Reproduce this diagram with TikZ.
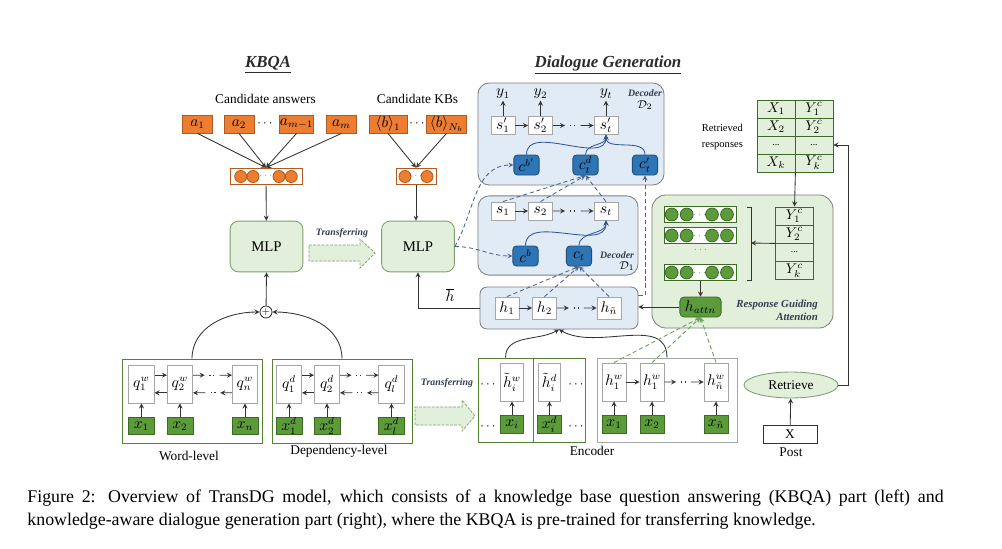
\documentclass[tikz,border=0pt]{standalone}
\usepackage{fontspec}
\setmainfont{Liberation Serif}
\usepackage[dvipsnames]{xcolor}
\usetikzlibrary{shapes.geometric,calc}

\definecolor{kbOrange}{HTML}{ED7D31}
\definecolor{kbOrangeDark}{HTML}{B35A1F}
\definecolor{kbGreen}{HTML}{5B9B3A}
\definecolor{kbGreenDark}{HTML}{3D6B27}
\definecolor{panelGreen}{HTML}{548235}
\definecolor{lightGreen}{HTML}{E2EFDA}
\definecolor{mlpEdge}{HTML}{7F9F70}
\definecolor{lightBlue}{HTML}{E1EBF6}
\definecolor{panelEdge}{HTML}{7F7F7F}
\definecolor{kbBlue}{HTML}{2E75B6}
\definecolor{kbBlueDark}{HTML}{1F4E79}
\definecolor{curveBlue}{HTML}{2F5597}
\definecolor{dashBlue}{HTML}{4A6488}
\definecolor{dashGreen}{HTML}{6C9A5E}
\definecolor{boxGray}{HTML}{A6A6A6}
\definecolor{lineDark}{HTML}{333333}
\definecolor{titleInk}{HTML}{2B2B2B}
\definecolor{tagInk}{HTML}{333F50}

% arrow, dots, arrow
\newcommand{\dotlink}[2]{%
  \draw[conn] (#1) -- ($(#1)!0.3!(#2)$);
  \draw[draw=lineDark,line width=0.8pt,dotted] ($(#1)!0.42!(#2)$) -- ($(#1)!0.6!(#2)$);
  \draw[conn] ($(#1)!0.68!(#2)$) -- (#2);}

\begin{document}
\begin{tikzpicture}[x=0.025cm,y=-0.025cm,>=stealth,line width=0.6pt,
  font=\fontsize{9.5}{11}\selectfont,
  box font/.style={font=\fontsize{10.5}{12}\selectfont},
  cand node/.style={box font,draw=kbOrangeDark,fill=kbOrange,inner sep=0pt,minimum height=0.45cm},
  vec node/.style={draw=kbOrangeDark,fill=white,inner sep=0pt,minimum height=0.42cm},
  gvec node/.style={draw=kbGreenDark,fill=white,inner sep=0pt,minimum width=1.78cm,minimum height=0.38cm},
  mlp node/.style={draw=mlpEdge,fill=lightGreen,rounded corners=6pt,minimum width=1.82cm,minimum height=1.27cm,font=\fontsize{10.5}{12}\selectfont},
  cell node/.style={box font,draw=boxGray,fill=white,inner sep=0pt},
  in node/.style={box font,draw=kbGreenDark,fill=kbGreen,inner sep=0pt,minimum height=0.44cm},
  ctx node/.style={box font,draw=kbBlueDark,fill=kbBlue,rounded corners=2.5pt,inner sep=0pt,minimum width=0.63cm,minimum height=0.5cm},
  tab node/.style={font=\fontsize{10}{11}\selectfont,draw=kbGreenDark,fill=lightGreen,inner sep=0pt,minimum width=0.95cm,minimum height=0.45cm},
  blue panel/.style={draw=panelEdge,fill=lightBlue,rounded corners=8pt},
  conn/.style={->,draw=lineDark},
  dec dash/.style={->,draw=dashBlue,dash pattern=on 3pt off 2pt},
  att dash/.style={->,draw=dashGreen,dash pattern=on 3pt off 2pt},
  dec curve/.style={->,draw=curveBlue},
  transfer/.style={draw=mlpEdge,fill=lightGreen,dash pattern=on 2pt off 1pt,line width=0.5pt},
  small tag/.style={font=\bfseries\itshape\fontsize{7}{8}\selectfont,text=tagInk},
  title text/.style={font=\bfseries\itshape\fontsize{12}{14}\selectfont,text=titleInk}]

\fill[white] (0,0) rectangle (1002,548);
\useasboundingbox (0,0) rectangle (1002,548);

% ---------------- KBQA
\node[title text] (kbqaT) at (268,65) {\underline{KBQA}};
\node[title text] (dgT) at (608,65) {\underline{Dialogue Generation}};
\node (candA) at (265.5,99) {Candidate answers};
\node (candB) at (417.5,99) {Candidate KBs};

\node[cand node,minimum width=0.73cm] (a1) at (197.5,124) {$a_1$};
\node[cand node,minimum width=0.75cm] (a2) at (239,124) {$a_2$};
\node (adots) at (265,124) {$\cdots$};
\node[cand node,minimum width=0.83cm] (am1) at (296.5,124) {$a_{m-1}$};
\node[cand node,minimum width=0.73cm] (am) at (341.5,124) {$a_m$};
\node[cand node,minimum width=0.95cm] (b1) at (388,124) {$\langle b\rangle_1$};
\node (bdots) at (417,124) {$\cdots$};
\node[cand node,minimum width=0.98cm] (bN) at (446.5,124) {$\langle b\rangle_{N_b}$};

\node[vec node,minimum width=1.8cm] (va) at (266,176.5) {};
\node[vec node,minimum width=1cm] (vb) at (416,176.5) {};
\foreach \cx in {240.7,253,279,291.3}
  \fill[draw=kbOrangeDark,fill=kbOrange] (\cx,176.5) circle[radius=0.15cm];
\foreach \cx in {405,427}
  \fill[draw=kbOrangeDark,fill=kbOrange] (\cx,176.5) circle[radius=0.15cm];
\node[font=\tiny] (vadots) at (266,176) {$\cdots$};
\node[font=\tiny] (vbdots) at (416,176) {$\cdots$};

\foreach \n in {a1,a2,am1,am} \draw[conn] (\n.south) -- (va.north);
\foreach \n in {b1,bN} \draw[conn] (\n.south) -- (vb.north);

\node[mlp node] (mlpA) at (266.5,246.5) {MLP};
\node[mlp node] (mlpB) at (418,246.5) {MLP};
\draw[conn] (va) -- (mlpA);
\draw[conn] (vb.south) -- (vb.south |- mlpB.north);

\node[small tag] (trA) at (342,233) {Transferring};
\draw[transfer] (309,245) -- (360,245) -- (360,239) -- (375,253) -- (360,268) -- (360,261) -- (309,261) -- cycle;

\node[circle,draw=lineDark,fill=white,inner sep=0pt,minimum size=0.3cm,font=\scriptsize] (plus) at (266,312) {$+$};
\draw[conn] (plus) -- (mlpA.south);

% ---------------- question encoders
\node[draw=panelGreen,minimum width=3.5cm,minimum height=2.12cm] (wordP) at (192,401.5) {};
\node[draw=panelGreen,minimum width=3.5cm,minimum height=2.12cm] (depP) at (342,401.5) {};
\node (wordL) at (189,456) {Word-level};
\node (depL) at (339,451) {Dependency-level};

\foreach \i/\px in {1/141.5, 2/180, n/245} {
  \node[cell node,minimum width=0.63cm,minimum height=0.95cm] (qw\i) at (\px,384) {$q_{\i}^w$};
  \node[in node,minimum width=0.65cm] (xw\i) at (\px,426) {$x_{\i}$};
  \draw[conn] (xw\i) -- (qw\i);
}
\foreach \i/\px in {1/289, 2/327, l/391.5} {
  \node[cell node,minimum width=0.63cm,minimum height=0.95cm] (qd\i) at (\px,384) {$q_{\i}^d$};
  \node[in node,minimum width=0.65cm] (xd\i) at (\px,426) {$x_{\i}^d$};
  \draw[conn] (xd\i) -- (qd\i);
}
\draw[conn] ([yshift=0.22cm]qw1.east) -- ([yshift=0.22cm]qw2.west);
\draw[conn] ([yshift=-0.22cm]qw2.west) -- ([yshift=-0.22cm]qw1.east);
\dotlink{[yshift=0.22cm]qw2.east}{[yshift=0.22cm]qwn.west}
\dotlink{[yshift=-0.22cm]qwn.west}{[yshift=-0.22cm]qw2.east}
\draw[conn] ([yshift=0.22cm]qd1.east) -- ([yshift=0.22cm]qd2.west);
\draw[conn] ([yshift=-0.22cm]qd2.west) -- ([yshift=-0.22cm]qd1.east);
\dotlink{[yshift=0.22cm]qd2.east}{[yshift=0.22cm]qdl.west}
\dotlink{[yshift=-0.22cm]qdl.west}{[yshift=-0.22cm]qd2.east}

\draw[conn] (wordP.north) to[out=90,in=180] (plus.west);
\draw[conn] (depP.north) to[out=90,in=0] (plus.east);

\node[small tag] (trB) at (447,383) {Transferring};
\draw[transfer] (415,407) -- (462,407) -- (462,400) -- (475,416) -- (462,431) -- (462,425) -- (415,425) -- cycle;

% ---------------- encoder
\node[draw=panelGreen,minimum width=1.375cm,minimum height=2.12cm] (encA) at (505.5,400.5) {};
\node[draw=panelGreen,minimum width=1.3cm,minimum height=2.12cm] (encB) at (559,400.5) {};
\node[draw=boxGray,minimum width=3.5cm,minimum height=2.12cm] (encC) at (667,400.5) {};
\node (encL) at (592,451) {Encoder};

\node[cell node,minimum width=0.57cm,minimum height=0.95cm] (hti) at (512,382) {$\tilde{h}_i^w$};
\node[cell node,minimum width=0.57cm,minimum height=0.95cm] (htd) at (549.5,382) {$\tilde{h}_i^d$};
\node[in node,minimum width=0.58cm,minimum height=0.43cm] (xti) at (512,424.5) {$x_i$};
\node[in node,minimum width=0.58cm,minimum height=0.43cm] (xtd) at (549.5,424.5) {$x_i^d$};
\draw[conn] (xti) -- (hti);
\draw[conn] (xtd) -- (htd);
\node[inner sep=0pt] (edotA) at (488,385) {$\cdots$};
\node[inner sep=0pt] (edotB) at (576,385) {$\cdots$};
\node[inner sep=0pt] (edotC) at (488,427) {$\cdots$};
\node[inner sep=0pt] (edotD) at (576,427) {$\cdots$};

\foreach \i/\px/\hl/\xl in {1/614/1/1, 2/652/1/2, n/716/{\tilde{n}}/{\tilde{n}}} {
  \node[cell node,minimum width=0.6cm,minimum height=0.95cm] (hw\i) at (\px,382) {$h_{\hl}^w$};
  \node[in node,minimum width=0.6cm,minimum height=0.43cm] (xe\i) at (\px,424.5) {$x_{\xl}$};
  \draw[conn] (xe\i) -- (hw\i);
}
\draw[conn] (hw1) -- (hw2);
\dotlink{hw2.east}{hwn.west}

% ---------------- decoders
\node[blue panel,minimum width=4.65cm,minimum height=2.55cm] (decB) at (571,134) {};
\node[blue panel,minimum width=4cm,minimum height=1.98cm] (decA) at (558,235.5) {};
\node[blue panel,rounded corners=5pt,minimum width=3.95cm,minimum height=1.05cm] (hP) at (559,308) {};

\foreach \i/\px in {1/503, 2/540.5, t/606} {
  \node[cell node,minimum width=0.6cm,minimum height=0.43cm] (sp\i) at (\px,125.5) {$s'_{\i}$};
  \node[box font,inner sep=1pt] (y\i) at (\px,94) {$y_{\i}$};
  \draw[conn] (sp\i) -- (y\i);
  \node[cell node,minimum width=0.6cm,minimum height=0.45cm] (s\i) at (\px,211) {$s_{\i}$};
}
\draw[conn] (sp1) -- (sp2);
\dotlink{sp2.east}{spt.west}
\draw[conn] (s1) -- (s2);
\dotlink{s2.east}{st.west}

\node[ctx node] (cbp) at (526.5,165) {$c^{b'}$};
\node[ctx node] (ctd) at (585.5,165) {$c_t^d$};
\node[ctx node] (ctp) at (645,165) {$c'_t$};
\node[ctx node] (cb) at (525.5,256) {$c^b$};
\node[ctx node] (ct) at (579,256) {$c_t$};

\node[small tag] (d2L) at (645,93) {Decoder};
\node[font=\fontsize{8}{9}\selectfont] (d2M) at (645,105) {$\mathcal{D}_2$};
\node[small tag] (d1L) at (617,255) {Decoder};
\node[font=\fontsize{8}{9}\selectfont] (d1M) at (627,266) {$\mathcal{D}_1$};

\foreach \n in {cbp,ctd,ctp} \draw[dec curve] (\n.north) to[out=90,in=-90] (spt.south);
\foreach \n in {cb,ct} \draw[dec curve] (\n.north) to[out=90,in=-90] (st.south);

\foreach \i/\px/\hl in {1/507/1, 2/544.5/2, n/609/{\tilde{n}}}
  \node[cell node,minimum width=0.6cm,minimum height=0.55cm] (h\i) at (\px,308) {$h_{\hl}$};
\draw[conn] (h1) -- (h2);
\dotlink{h2.east}{hn.west}

\foreach \n in {h1,h2,hn} \draw[dec dash] (\n.north) -- (ct.south);
\foreach \n in {s1,s2,st} \draw[dec dash] (\n.north) -- (ctd.south);
\draw[dec dash] (mlpB.east) to[out=60,in=180] (cbp.west);
\draw[dec dash] (mlpB.east) to[out=0,in=180] (cb.west);
\draw[dec dash] ([yshift=0.32cm]hP.east) -| (ctp.south);

\draw[conn] (hP.west) -| (mlpB.south);
\node[box font] (hbar) at (450,295) {$\overline{h}$};

\draw[conn] (encA.north) to[out=90,in=-150] (hP.south);
\draw[conn] (encC.north) to[out=90,in=-30] (hP.south);

% ---------------- response guiding attention
\node[draw=panelEdge,fill=lightGreen,rounded corners=10pt,minimum width=4.525cm,minimum height=3.325cm] (rgaP) at (742.5,261.5) {};
\foreach \v/\yy in {1/214.5, 2/235.5, 3/272.5} {
  \node[gvec node] (gv\v) at (700.5,\yy) {};
  \foreach \cx in {671.7,686.7,712,727}
    \fill[draw=kbGreenDark,fill=kbGreen] (\cx,\yy) circle[radius=0.16cm];
  \node[font=\tiny] (gd\v) at (699.5,\yy) {$\cdots$};
}
\node[font=\tiny] (gvdots) at (700.5,250) {$\cdots$};
\draw[draw=lineDark] (747,207) -- (751,207) -- (751,280) -- (747,280);
\coordinate (brk) at (751,243);

\foreach \r/\yy/\lab in {1/216/{$Y_1^c$}, 2/234/{$Y_2^c$}, 3/252.5/{\scriptsize...}, 4/270.5/{$Y_k^c$}}
  \node[tab node,minimum width=0.93cm] (yc\r) at (794.5,\yy) {\lab};
\draw[conn] (yc2.south west) -- (brk);

\node[in node,rounded corners=3pt,minimum width=1.03cm,minimum height=0.5cm] (hatt) at (700.5,307) {$h_{attn}$};
\draw[conn] (gv3.south) -- (hatt.north);
\draw[conn] (hatt.west) -- (hatt.west -| hP.east);
\node[small tag,font=\bfseries\itshape\fontsize{7.7}{9.5}\selectfont,align=right,anchor=east] (rgaL) at (823,310) {Response Guiding\\Attention};

\foreach \n in {hw1,hw2,hwn} \draw[att dash] (\n.north) -- (hatt.south);

% ---------------- retrieved responses
\foreach \r/\yy/\xl/\yl in {1/109/{$X_1$}/{$Y_1^c$}, 2/127/{$X_2$}/{$Y_2^c$}, 3/145/{\scriptsize...}/{\scriptsize...}, 4/163/{$X_k$}/{$Y_k^c$}} {
  \node[tab node] (tx\r) at (776,\yy) {\xl};
  \node[tab node] (ty\r) at (814,\yy) {\yl};
}
\node[font=\fontsize{7.5}{11}\selectfont,align=right,anchor=east] (retL) at (748,137) {Retrieved\\responses};
\draw[conn] (tx4.south east) -- (yc1.north);

\node[ellipse,draw=mlpEdge,fill=lightGreen,minimum width=2.35cm,minimum height=0.6cm] (retr) at (791,385) {Retrieve};
\node[draw=lineDark,minimum width=1.35cm,minimum height=0.43cm,inner sep=0pt] (post) at (790,434.5) {X};
\node (postL) at (791,452) {Post};
\draw[conn] (post) -- (retr);
\coordinate (rturn) at (848,145);
\draw[conn] (retr.east) -| (rturn) -- (ty3.east);

% ---------------- caption
\node[anchor=base west,inner sep=0pt,font=\fontsize{12.7}{15}\selectfont] (capA) at (27,502) {\makebox[22.9cm][s]{Figure 2: Overview of TransDG model, which consists of a knowledge base question answering (KBQA) part (left) and}};
\node[anchor=base west,inner sep=0pt,font=\fontsize{12.7}{15}\selectfont] (capB) at (27,525) {knowledge-aware dialogue generation part (right), where the KBQA is pre-trained for transferring knowledge.};
\end{tikzpicture}
\end{document}
